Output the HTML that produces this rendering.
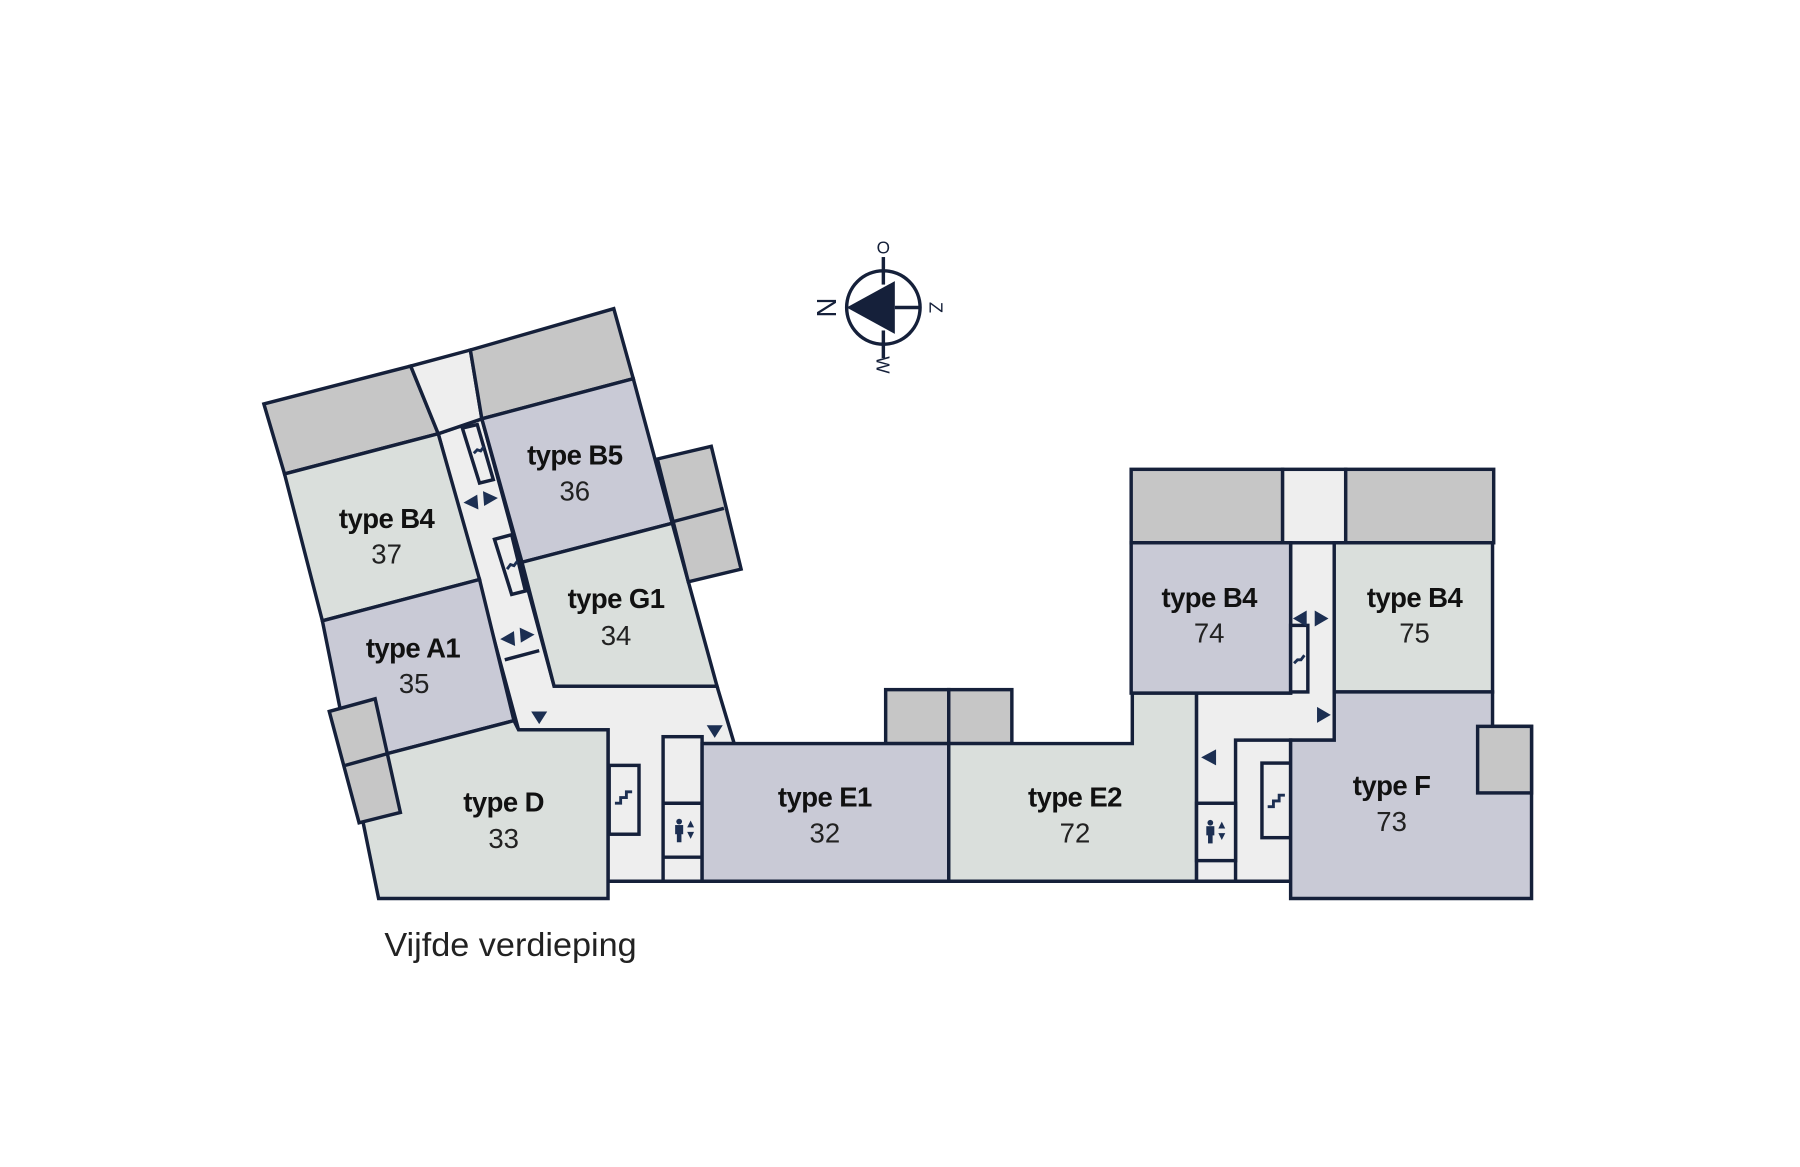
<!DOCTYPE html>
<html><head><meta charset="utf-8"><style>
html,body{margin:0;padding:0;background:#fff;}
svg{display:block;}
text{font-family:"Liberation Sans",sans-serif;}
.t{font-weight:bold;font-size:24px;fill:#111;text-anchor:middle;letter-spacing:-0.5px;}
.n{font-size:24px;fill:#222;text-anchor:middle;font-weight:normal;}
</style></head><body>
<svg width="1800" height="1167" viewBox="0 0 1569 1017" preserveAspectRatio="none" xmlns="http://www.w3.org/2000/svg">
<rect width="1569" height="1017" fill="#fff"/>
<g stroke="#15203a" stroke-width="3" stroke-linejoin="miter">
<polygon points="382,378 420,365 483,598 625,598 640,648 612,648 612,768 530,768 530,636 452,636" fill="#eeeeee"/>
<polygon points="230,352 358,319 382,378 248,413" fill="#c6c6c6"/>
<polygon points="358,319 410,305 420,365 382,378" fill="#eeeeee"/>
<polygon points="410,305 535,269 552,330 420,365" fill="#c6c6c6"/>
<polygon points="248,413 382,378 418,505 281,541" fill="#dadfdc"/>
<polygon points="420,365 552,330 586,456 455,490" fill="#c9cad6"/>
<polygon points="455,490 586,456 625,598 483,598" fill="#dadfdc"/>
<polygon points="281,541 418,505 448,628 306,665" fill="#c9cad6"/>
<polygon points="306,665 448,628 452,636 530,636 530,783 330,783" fill="#dadfdc"/>
<polygon points="287,620 327,609 349,708 313,717" fill="#c6c6c6"/>
<line x1="301" y1="667" x2="337" y2="657"/>
<polygon points="573,400 620,389 646,496 600,507" fill="#c6c6c6"/>
<line x1="585" y1="455" x2="631" y2="443"/>
<polygon points="403,373 416,370 430,418 418,421" fill="#eeeeee"/>
<polygon points="431,470 446,466 458,515 446,518" fill="#eeeeee"/>
<line x1="440" y1="575" x2="470" y2="567"/>
<rect x="531" y="667" width="26" height="60" fill="#eeeeee"/>
<rect x="578" y="642" width="34" height="126" fill="#eeeeee"/>
<line x1="578" y1="700" x2="612" y2="700"/>
<line x1="578" y1="747" x2="612" y2="747"/>
<rect x="772" y="601" width="55" height="47" fill="#c6c6c6"/>
<rect x="827" y="601" width="55" height="47" fill="#c6c6c6"/>
<rect x="612" y="648" width="215" height="120" fill="#c9cad6"/>
<polygon points="827,648 987,648 987,604 1043,604 1043,768 827,768" fill="#dadfdc"/>
<polygon points="1043,604 1125,604 1125,473 1163,473 1163,645 1125,645 1125,768 1043,768" fill="#eeeeee"/>
<rect x="986" y="409" width="132" height="64" fill="#c6c6c6"/>
<rect x="1118" y="409" width="55" height="64" fill="#eeeeee"/>
<rect x="1173" y="409" width="129" height="64" fill="#c6c6c6"/>
<rect x="986" y="473" width="139" height="131" fill="#c9cad6"/>
<rect x="1163" y="473" width="138" height="130" fill="#dadfdc"/>
<rect x="1125" y="545" width="15" height="58" fill="#eeeeee"/>
<polygon points="1077,645 1125,645 1125,768 1077,768" fill="#eeeeee"/>
<rect x="1043" y="700" width="34" height="50" fill="#eeeeee"/>
<rect x="1100" y="665" width="25" height="65" fill="#eeeeee"/>
<polygon points="1125,645 1163,645 1163,603 1301,603 1301,633 1335,633 1335,783 1125,783" fill="#c9cad6"/>
<rect x="1288" y="633" width="47" height="58" fill="#c6c6c6"/>
<line x1="530" y1="768" x2="1125" y2="768"/>
</g>
<g fill="#1c2f52">
<polygon points="404,438 416,431 417,444"/><polygon points="434,434 421,428 422,441"/>
<polygon points="436,557 448,550 449,563"/><polygon points="466,553 453,547 454,560"/>
<polygon points="463,620 477,620 470,631"/><polygon points="616,632 630,632 623,643"/>
<polygon points="1127,539 1139,532 1139,546"/><polygon points="1158,539 1146,532 1146,546"/>
<polygon points="1160,623 1148,616 1148,630"/><polygon points="1047,660 1060,653 1060,667"/>
</g>
<g stroke="#1c2f52" stroke-width="2.5" fill="none">
<polyline points="536,700 541,700 541,695 546,695 546,690 551,690"/>
<polyline points="1105,703 1110,703 1110,698 1115,698 1115,693 1120,693"/>
<polyline points="413,395 416,392 419,393 422,389"/>
<polyline points="442,496 445,492 448,493 451,489"/>
<polyline points="1128,578 1131,575 1134,575 1137,571"/>
</g>
<g fill="#1c2f52">
<circle cx="592" cy="716" r="2.5"/><rect x="588.5" y="719" width="7" height="8"/><rect x="590" y="726" width="4" height="8"/>
<polygon points="599,721 605,721 602,715"/><polygon points="599,725 605,725 602,731"/>
<circle cx="1055" cy="717" r="2.5"/><rect x="1051.5" y="720" width="7" height="8"/><rect x="1053" y="727" width="4" height="8"/>
<polygon points="1062,722 1068,722 1065,716"/><polygon points="1062,726 1068,726 1065,732"/>
</g>
<text class="t" x="337" y="460">type B4</text><text class="n" x="337" y="491">37</text>
<text class="t" x="501" y="405">type B5</text><text class="n" x="501" y="436">36</text>
<text class="t" x="537" y="530">type G1</text><text class="n" x="537" y="562">34</text>
<text class="t" x="360" y="573">type A1</text><text class="n" x="361" y="604">35</text>
<text class="t" x="439" y="707">type D</text><text class="n" x="439" y="739">33</text>
<text class="t" x="719" y="703">type E1</text><text class="n" x="719" y="734">32</text>
<text class="t" x="937" y="703">type E2</text><text class="n" x="937" y="734">72</text>
<text class="t" x="1054" y="529">type B4</text><text class="n" x="1054" y="560">74</text>
<text class="t" x="1233" y="529">type B4</text><text class="n" x="1233" y="560">75</text>
<text class="t" x="1213" y="693">type F</text><text class="n" x="1213" y="724">73</text>
<text x="335" y="833" font-size="29" fill="#222" textLength="220" lengthAdjust="spacingAndGlyphs">Vijfde verdieping</text>
<g stroke="#15203a" stroke-width="3" fill="none">
<circle cx="770" cy="268" r="32"/>
<line x1="770" y1="224" x2="770" y2="248"/>
<line x1="770" y1="288" x2="770" y2="312"/>
<line x1="780" y1="268" x2="802" y2="268"/>
</g>
<polygon points="738,268 780,245 780,291" fill="#15203a"/>
<text x="770" y="221" font-size="15" text-anchor="middle" fill="#15203a">O</text>
<text transform="translate(810,268) rotate(90)" font-size="16" text-anchor="middle" fill="#15203a">Z</text>
<text transform="translate(764,318) rotate(90)" font-size="16" text-anchor="middle" fill="#15203a">W</text>
<text transform="translate(712,268) rotate(90)" font-size="24" text-anchor="middle" fill="#15203a">N</text>
</svg>
</body></html>
